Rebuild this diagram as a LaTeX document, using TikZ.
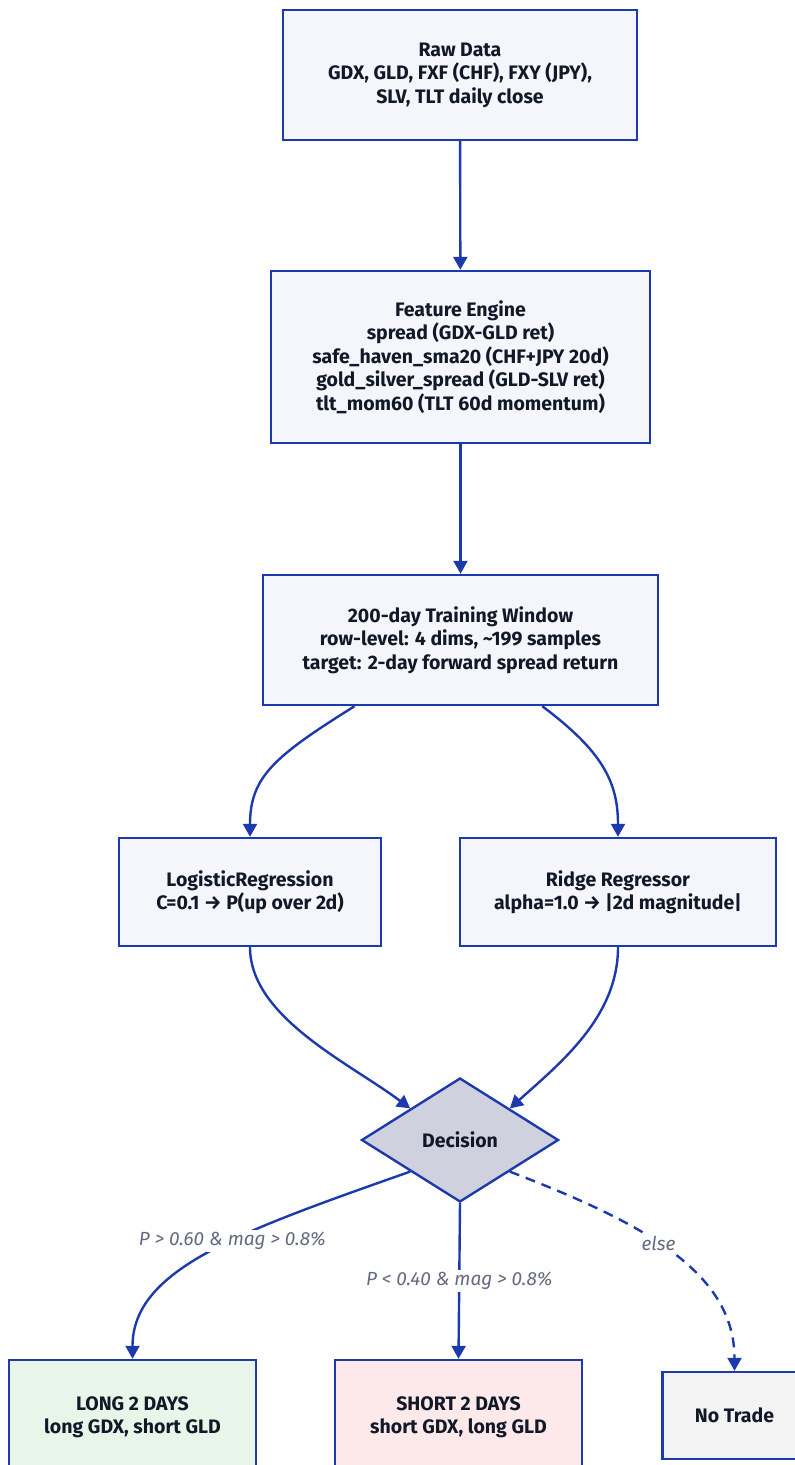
\documentclass[tikz,border=0pt]{standalone}
\usepackage{fontspec}
\setmainfont{Fira Sans}
\usetikzlibrary{shapes.geometric,arrows.meta}

\definecolor{edgeblue}{HTML}{1C3AAE}
\definecolor{boxfill}{HTML}{F5F6FC}
\definecolor{decfill}{HTML}{CFD2DE}
\definecolor{longfill}{HTML}{E8F5E9}
\definecolor{shortfill}{HTML}{FDE8EA}
\definecolor{nofill}{HTML}{F3F3F4}
\definecolor{inkdark}{HTML}{111827}
\definecolor{labelgray}{HTML}{646B80}

\begin{document}
\begin{tikzpicture}[x=1pt,y=-1pt,
	box/.style={draw=edgeblue, line width=2.4pt, fill=boxfill, text=inkdark, align=center, inner sep=0pt,
		font=\bfseries\fontsize{19.5}{23.5}\selectfont},
	decision/.style={diamond, draw=edgeblue, line width=2.4pt, fill=decfill, text=inkdark, inner sep=0pt,
		minimum width=197, minimum height=124, font=\bfseries\fontsize{19.5}{23.5}\selectfont},
	flow/.style={edgeblue, line width=2.4pt, -{Triangle[length=13pt,width=14pt]}},
	cond/.style={font=\itshape\fontsize{19}{22}\selectfont, text=labelgray, fill=white, inner sep=2pt}]
	\useasboundingbox (0,0) rectangle (795,1465);
	
	% pipeline
	\node[box, minimum width=354, minimum height=130] (raw) at (460,75) {Raw Data\\GDX, GLD, FXF (CHF), FXY (JPY),\\SLV, TLT daily close};
	\node[box, minimum width=379, minimum height=172] (feat) at (460.5,357) {Feature Engine\\spread (GDX-GLD ret)\\safe\_haven\_sma20 (CHF+JPY 20d)\\gold\_silver\_spread (GLD-SLV ret)\\tlt\_mom60 (TLT 60d momentum)};
	\node[box, minimum width=395, minimum height=130] (train) at (460.5,640) {200-day Training Window\\row-level: 4 dims, \textasciitilde199 samples\\target: 2-day forward spread return};
	
	% models
	\node[box, minimum width=262, minimum height=108] (logit) at (250,892) {LogisticRegression\\C=0.1 → P(up over 2d)};
	\node[box, minimum width=316, minimum height=108] (ridge) at (618,892) {Ridge Regressor\\alpha=1.0 → |2d magnitude|};
	
	\node[decision] (dec) at (460,1140) {Decision};
	
	% outcomes
	\node[box, fill=longfill, minimum width=247, minimum height=114] (long) at (132.5,1417) {LONG 2 DAYS\\long GDX, short GLD};
	\node[box, fill=shortfill, minimum width=247, minimum height=114] (short) at (458.5,1417) {SHORT 2 DAYS\\short GDX, long GLD};
	\node[box, fill=nofill, minimum width=144, minimum height=87] (none) at (734.5,1415.5) {No Trade};
	
	\draw[flow] (raw) -- (feat);
	\draw[flow] (feat) -- (train);
	\draw[flow] (train.-148.5) .. controls +(-80,50) and +(0,-60) .. (logit.north);
	\draw[flow] (train.-39) .. controls +(60,45) and +(0,-55) .. (ridge.north);
	\draw[flow] (logit.south) .. controls +(0,70) and +(-60,-45) .. (dec.north west);
	\draw[flow] (ridge.south) .. controls +(0,70) and +(50,-45) .. (dec.north east);
	\draw[flow] (dec.south west) .. controls +(-170,60) and +(0,-90) .. (long.north) node[cond, pos=0.42] {P > 0.60 \& mag > 0.8\%};
	\draw[flow] (dec.south) -- (short.north) node[cond, midway] {P < 0.40 \& mag > 0.8\%};
	\draw[flow, dash pattern=on 10pt off 7pt] (dec.south east) .. controls +(130,50) and +(0,-100) .. (none.north) node[cond, pos=0.45] {else};
\end{tikzpicture}
\end{document}
